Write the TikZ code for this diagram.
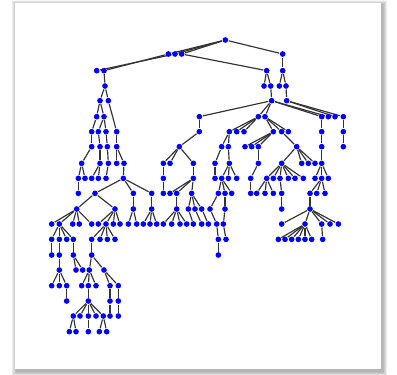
\documentclass[tikz,border=0pt]{standalone}
\pgfdeclarelayer{back}
\pgfdeclarelayer{edges}
\pgfsetlayers{back,edges,main}
\tikzset{
  dot/.style={circle,fill=blue,inner sep=0pt,minimum size=1.7pt},
  edge/.style={draw=black!80,line width=0.35pt}
}
\begin{document}
\begin{tikzpicture}[x=0.1pt,y=-0.1pt]
\useasboundingbox (0,0) rectangle (1191,1122);
\begin{pgfonlayer}{back}
\fill[white] (0,0) rectangle (1191,1122);
\foreach \i in {1,...,9}
  \fill[black,opacity=0.035] ({45-\i*1.6+5},{8-\i*1.6+7}) rectangle ({1143+\i*1.6+5},{1108+\i*1.6+7});
\fill[white] (45,8) rectangle (1143,1108);
\end{pgfonlayer}
% dots, level by level
\foreach \lv/\yy/\xs in {
  0/120/{676},
  1/162/{505,525,545,848},
  2/212/{290,312,800,848},
  3/258/{315,792,812,838,858},
  4/302/{300,325,815,860},
  5/350/{290,312,598,775,795,965,985,1005,1030},
  6/395/{275,295,318,350,598,688,710,732,820,845,865,965,1030},
  7/440/{275,300,322,350,538,665,685,735,755,775,890,965,1030},
  8/490/{245,300,325,350,372,490,510,580,645,688,775,845,905,925,945,965},
  9/535/{235,255,275,295,318,370,490,580,645,665,685,710,752,800,820,840,865,885,910,945,965,985},
  10/580/{235,285,400,455,490,510,530,575,655,675,695,752,770,795,820,845,930,950,975},
  11/627/{230,345,400,455,530,565,585,605,630,675,845,930},
  12/672/{155,178,218,238,275,295,318,340,360,385,410,430,450,470,490,515,540,560,580,605,625,650,670,845,915,965,990,1015},
  13/718/{155,178,200,220,275,300,322,345,655,678,835,855,875,895,915,935,968},
  14/765/{155,178,220,275,655},
  15/810/{178,228,248,268,312},
  16/857/{155,178,200,245,265,288,330,355},
  17/903/{200,265,330,355},
  18/948/{220,240,265,288,310,330,355},
  19/995/{208,228,265,298,320}}
  \foreach \x in \xs \node[dot] (n\lv x\x) at (\x,\yy) {};
\begin{pgfonlayer}{edges}
\foreach \p/\cs in {
  0x676/{1x505,1x525,1x545,1x848},
  1x525/{2x290}, 1x505/{2x312}, 1x545/{2x800}, 1x848/{2x848},
  2x312/{3x315}, 2x800/{3x792,3x812}, 2x848/{3x838,3x858},
  3x315/{4x300,4x325}, 3x812/{4x815}, 3x858/{4x860},
  4x300/{5x290,5x312}, 4x815/{5x598,5x775,5x795,5x965,5x985}, 4x860/{5x1005,5x1030},
  5x290/{6x275}, 5x312/{6x295,6x318}, 4x325/{6x350}, 5x598/{6x598}, 5x775/{6x688,6x710,6x732}, 5x795/{6x820,6x845,6x865}, 5x965/{6x965}, 5x1030/{6x1030},
  6x275/{7x275}, 6x295/{7x300}, 6x318/{7x322}, 6x350/{7x350}, 6x598/{7x538}, 6x688/{7x665,7x685}, 6x820/{7x735,7x755,7x775}, 6x845/{7x890}, 6x965/{7x965}, 6x1030/{7x1030},
  7x275/{8x245}, 7x300/{8x300}, 7x322/{8x325}, 7x350/{8x350,8x372}, 7x538/{8x490,8x510,8x580}, 7x665/{8x645}, 7x685/{8x688}, 7x775/{8x775}, 7x890/{8x845,8x905,8x925,8x945}, 7x965/{8x965},
  8x245/{9x235,9x255}, 8x300/{9x275,9x295}, 8x325/{9x318}, 8x372/{9x370}, 8x490/{9x490}, 8x580/{9x580}, 8x645/{9x645}, 8x688/{9x665,9x685,9x710}, 8x775/{9x752}, 8x845/{9x800,9x820,9x840,9x865,9x885,9x910}, 8x965/{9x945,9x965,9x985},
  9x235/{10x235}, 9x370/{10x285,10x400,10x455}, 9x490/{10x490}, 9x580/{10x510,10x530,10x575}, 9x665/{10x655,10x675,10x695}, 9x752/{10x752}, 9x800/{10x770,10x795,10x820}, 9x840/{10x845}, 9x965/{10x930,10x950,10x975},
  10x285/{11x230,11x345}, 10x400/{11x400}, 10x455/{11x455}, 10x530/{11x530}, 10x575/{11x565,11x585,11x605}, 10x655/{11x630}, 10x675/{11x675}, 10x845/{11x845}, 10x930/{11x930},
  11x230/{12x155,12x178,12x218,12x238,12x275}, 11x345/{12x295,12x318,12x340,12x360}, 11x400/{12x385,12x410}, 11x455/{12x430,12x450,12x470}, 11x530/{12x490,12x515,12x540,12x560}, 11x565/{12x580}, 11x585/{12x605}, 11x605/{12x625}, 11x630/{12x650}, 11x675/{12x670}, 11x930/{12x845,12x915,12x965,12x990,12x1015},
  12x178/{13x155,13x178,13x200,13x220}, 12x318/{13x275,13x300,13x322,13x345}, 12x650/{13x655}, 12x670/{13x678}, 12x915/{13x835,13x855,13x875,13x895,13x915,13x935}, 12x965/{13x968},
  13x155/{14x155}, 13x178/{14x178}, 13x220/{14x220}, 13x275/{14x275}, 13x655/{14x655},
  14x178/{15x178}, 14x220/{15x228,15x248}, 14x275/{15x268,15x312},
  15x178/{16x155,16x178,16x200}, 15x268/{16x245,16x265,16x288}, 15x312/{16x330,16x355},
  16x200/{17x200}, 16x265/{17x265}, 16x330/{17x330}, 16x355/{17x355},
  17x265/{18x220,18x240,18x265,18x288,18x310}, 17x330/{18x330}, 17x355/{18x355},
  18x220/{19x208,19x228}, 18x265/{19x265}, 18x310/{19x298,19x320}}
  \foreach \c in \cs \draw[edge] (n\p) -- (n\c);
\end{pgfonlayer}
\end{tikzpicture}
\end{document}
